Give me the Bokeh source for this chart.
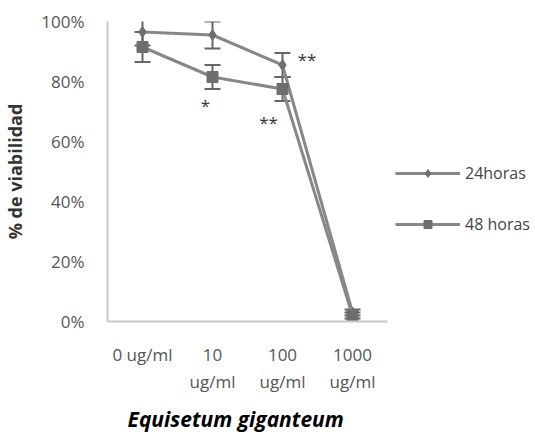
from bokeh.plotting import figure
from bokeh.models import (ColumnDataSource, Whisker, TeeHead, Legend, LegendItem,
                          FixedTicker, Title, Label)
from bokeh.embed import file_html
from bokeh.resources import INLINE

categories = ["0 ug/ml", "10\nug/ml", "100\nug/ml", "1000\nug/ml"]
series_names = ["24horas", "48 horas"]
v24 = [0.965, 0.955, 0.855, 0.03]
e24 = [0.045, 0.045, 0.04, 0.01]
v48 = [0.915, 0.815, 0.775, 0.02]
e48 = [0.05, 0.04, 0.04, 0.01]
y_ticks = [0, 0.2, 0.4, 0.6, 0.8, 1.0]
y_tick_labels = ["0%", "20%", "40%", "60%", "80%", "100%"]

xs = [i + 0.5 for i in range(len(categories))]

W, H = 535, 438
left, right, top, bottom = 107, 5, 21, 117
cat_px = 70.0
x_end = (W - left - right) / cat_px

p = figure(width=W, height=H, output_backend="svg", toolbar_location=None,
           x_range=(0, x_end), y_range=(0, 1.0),
           min_border_left=left, min_border_right=right, min_border_top=top, min_border_bottom=bottom)
p.outline_line_color = None
p.grid.visible = False
p.background_fill_color = "white"

font = "Open Sans"
p.yaxis.ticker = FixedTicker(ticks=y_ticks)
p.yaxis.major_label_overrides = {t: l for t, l in zip(y_ticks, y_tick_labels)}
p.xaxis.ticker = FixedTicker(ticks=xs)
p.xaxis.major_label_overrides = {x: c for x, c in zip(xs, categories)}
p.xaxis.bounds = (0, len(categories))
for ax in (p.xaxis, p.yaxis):
    ax.major_tick_line_color = None
    ax.minor_tick_line_color = None
    ax.axis_line_color = "#c8c8c8"
    ax.axis_line_width = 2
    ax.major_label_text_font = font
    ax.major_label_text_font_size = "17px"
    ax.major_label_text_color = "#555555"
p.yaxis.major_label_standoff = 17
p.xaxis.major_label_standoff = 15
p.yaxis.axis_label = "% de viabilidad"
p.yaxis.axis_label_text_font = font
p.yaxis.axis_label_text_font_style = "bold"
p.yaxis.axis_label_text_font_size = "18px"
p.yaxis.axis_label_text_color = "#333333"
p.yaxis.axis_label_standoff = 11

s24 = ColumnDataSource(dict(x=xs, y=v24, lo=[v - e for v, e in zip(v24, e24)], hi=[v + e for v, e in zip(v24, e24)]))
s48 = ColumnDataSource(dict(x=xs, y=v48, lo=[v - e for v, e in zip(v48, e48)], hi=[v + e for v, e in zip(v48, e48)]))

col_line = "#878787"
col_mark = "#6e6e6e"
l24 = p.line("x", "y", source=s24, line_color=col_line, line_width=3)
m24 = p.scatter("x", "y", source=s24, marker="diamond", size=11, fill_color=col_mark, line_color=col_mark)
l48 = p.line("x", "y", source=s48, line_color=col_line, line_width=3)
m48 = p.scatter("x", "y", source=s48, marker="square", size=11, fill_color=col_mark, line_color=col_mark)

for src in (s24, s48):
    w = Whisker(source=src, base="x", upper="hi", lower="lo", line_color="#666666", line_width=2,
                upper_head=TeeHead(size=16, line_color="#666666", line_width=2),
                lower_head=TeeHead(size=16, line_color="#666666", line_width=2))
    p.add_layout(w)

# significance marks
for (x, y, t) in [(1.4, 0.72, "*"), (2.3, 0.665, "**"), (2.85, 0.875, "**")]:
    p.add_layout(Label(x=x, y=y, text=t, text_font=font, text_font_size="17px",
                       text_color="#333333", text_align="center", text_baseline="middle"))

legend = Legend(items=[LegendItem(label=series_names[0], renderers=[l24, m24]),
                       LegendItem(label=series_names[1], renderers=[l48, m48])],
                location=(288, 86), glyph_width=65, glyph_height=20, spacing=29,
                label_text_font=font, label_text_font_size="16px", label_text_color="#444444",
                background_fill_alpha=0, border_line_color=None, padding=0, margin=0,
                label_standoff=5)
p.add_layout(legend, "center")

title = Title(text="Equisetum giganteum", align="left", text_font=font,
              text_font_style="bold italic", text_font_size="21px", text_color="black",
              offset=20, standoff=12)
p.add_layout(title, "below")

open("out.html", "w").write(file_html(p, INLINE))
